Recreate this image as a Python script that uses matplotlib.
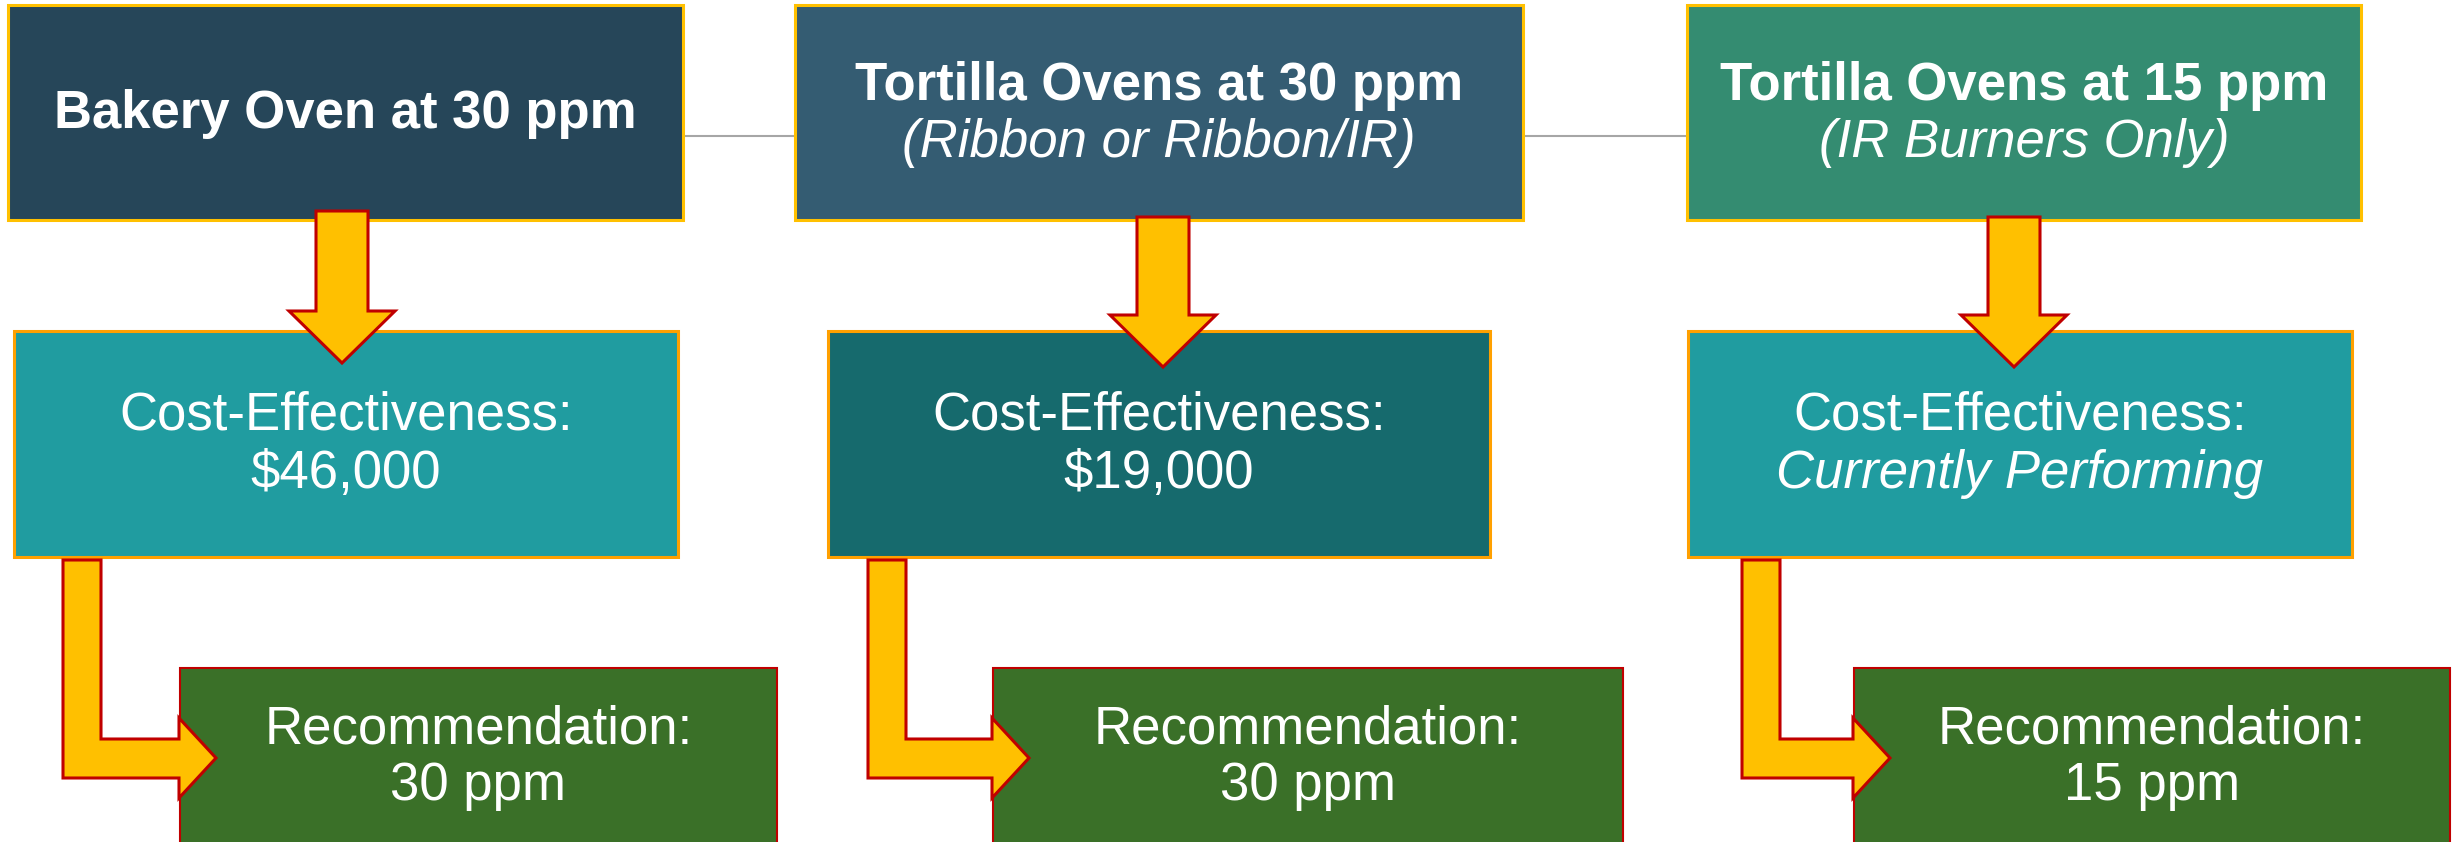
import matplotlib.pyplot as plt
from matplotlib.patches import Rectangle, Polygon

plt.rcParams['font.family'] = ['Liberation Sans', 'DejaVu Sans']

# texts of the three columns
oven_titles = ['Bakery Oven at 30 ppm', 'Tortilla Ovens at 30 ppm', 'Tortilla Ovens at 15 ppm']
oven_notes = ['', '(Ribbon or Ribbon/IR)', '(IR Burners Only)']
cost_values = ['$46,000', '$19,000', 'Currently Performing']
cost_italic = [False, False, True]
recommendations = ['30 ppm', '30 ppm', '15 ppm']

# colours
top_colors = ['#264659', '#345C72', '#348C71']
cost_colors = ['#209CA0', '#166A6D', '#209CA0']
rec_color = '#3A7028'
arrow_fill = '#FFC000'
arrow_edge = '#C00000'

# layout (pixels), one entry per column: (left, right)
top_x = [(8, 683), (795, 1523), (1687, 2361)]
cost_x = [(14, 678), (828, 1490), (1688, 2352)]
rec_x = [(180, 777), (993, 1623), (1854, 2450)]
down_cx = [342, 1163, 2014]
elbow_x = [63, 868, 1742]

FS = 38

W, H = 2461, 842
fig = plt.figure(figsize=(W / 100, H / 100), dpi=100)
ax = fig.add_axes([0, 0, 1, 1])
ax.set_xlim(0, W)
ax.set_ylim(H, 0)
ax.axis('off')

# thin grey connector behind the top boxes
ax.plot([top_x[0][1], top_x[2][0]], [136, 136], color='#A6A6A6', lw=1.5, zorder=1)

for i in range(3):
    # top box
    x0, x1 = top_x[i]
    ax.add_patch(Rectangle((x0, 5), x1 - x0, 215, facecolor=top_colors[i],
                           edgecolor='#FFC000', lw=2.2, zorder=2))
    cx = (x0 + x1) / 2
    if oven_notes[i]:
        ax.text(cx, 100, oven_titles[i], color='white', fontsize=FS, fontweight='bold',
                ha='center', va='baseline', zorder=5)
        ax.text(cx, 157, oven_notes[i], color='white', fontsize=FS, style='italic',
                ha='center', va='baseline', zorder=5)
    else:
        ax.text(cx, 128, oven_titles[i], color='white', fontsize=FS, fontweight='bold',
                ha='center', va='baseline', zorder=5)

    # cost box
    x0, x1 = cost_x[i]
    ax.add_patch(Rectangle((x0, 331), x1 - x0, 226, facecolor=cost_colors[i],
                           edgecolor='#FFA000', lw=2.2, zorder=2))
    cx = (x0 + x1) / 2
    ax.text(cx, 430, 'Cost-Effectiveness:', color='white', fontsize=FS,
            ha='center', va='baseline', zorder=5)
    ax.text(cx, 488, cost_values[i], color='white', fontsize=FS,
            style='italic' if cost_italic[i] else 'normal',
            ha='center', va='baseline', zorder=5)

    # recommendation box
    x0, x1 = rec_x[i]
    ax.add_patch(Rectangle((x0, 668), x1 - x0, 200, facecolor=rec_color,
                           edgecolor=arrow_edge, lw=1.5, zorder=2))
    cx = (x0 + x1) / 2
    ax.text(cx, 743, 'Recommendation:', color='white', fontsize=FS,
            ha='center', va='baseline', zorder=5)
    ax.text(cx, 800, recommendations[i], color='white', fontsize=FS,
            ha='center', va='baseline', zorder=5)

    # down arrow from top box to cost box
    c = down_cx[i]
    top = 211 if i == 0 else 217
    hs = 311 if i == 0 else 315
    tip = 363 if i == 0 else 367
    pts = [(c - 26, top), (c + 26, top), (c + 26, hs), (c + 53, hs), (c, tip),
           (c - 53, hs), (c - 26, hs)]
    ax.add_patch(Polygon(pts, closed=True, facecolor=arrow_fill, edgecolor=arrow_edge,
                         lw=2.2, joinstyle='miter', zorder=4))

    # elbow arrow from cost box to recommendation box
    ex = elbow_x[i]
    hb = rec_x[i][0] - 1
    pts = [(ex, 560), (ex + 38, 560), (ex + 38, 739), (hb, 739), (hb, 718),
           (hb + 37, 758), (hb, 798), (hb, 778), (ex, 778)]
    ax.add_patch(Polygon(pts, closed=True, facecolor=arrow_fill, edgecolor=arrow_edge,
                         lw=2.2, joinstyle='miter', zorder=4))

fig.savefig('out.png', dpi=100, facecolor='white')
